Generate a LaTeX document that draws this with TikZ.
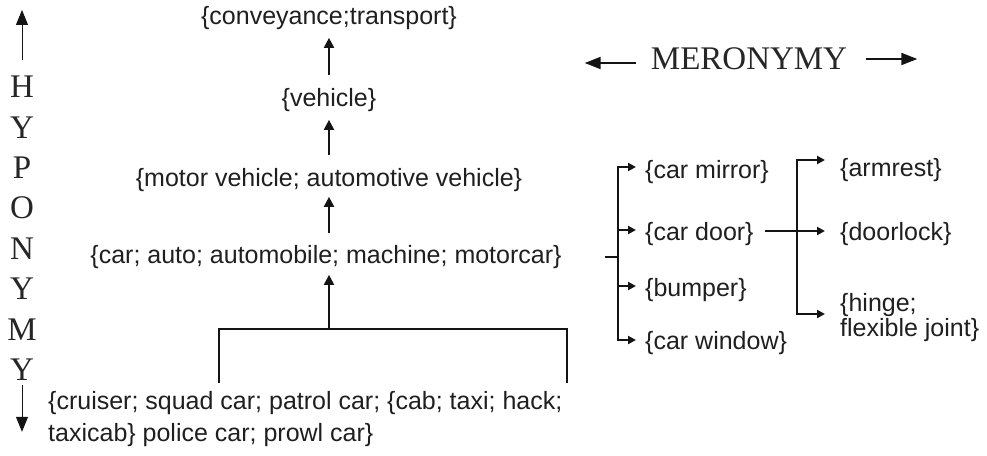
\documentclass[tikz,border=0pt]{standalone}
\usepackage{fontspec}
\setmainfont{Liberation Sans}
\newfontfamily\serifface{Liberation Serif}
\usetikzlibrary{arrows.meta}
\begin{document}
\begin{tikzpicture}[x=1pt,y=-1pt,
  txt/.style={inner sep=0pt, font=\fontsize{25}{32}\selectfont, text=black!88},
  txttight/.style={inner sep=0pt, font=\fontsize{25}{25}\selectfont, text=black!88, align=left},
  lbl/.style={inner sep=0pt, font=\serifface\fontsize{33}{36}\selectfont, text=black!85},
  tline/.style={line width=2pt, draw=black!92},
  harr/.style={tline, -{Triangle[length=10pt,width=10pt]}},
  marr/.style={tline, -{Triangle[length=8pt,width=8pt]}},
  sidearr/.style={line width=1pt, draw=black!92, -{Triangle[length=15pt,width=12pt]}},
  bigarr/.style={tline, -{Triangle[length=16pt,width=12pt]}}
]
\useasboundingbox (0,0) rectangle (987,455);

% HYPONYMY vertical label
\foreach \l [count=\i from 0] in {H,Y,P,O,N,Y,M,Y}
  \node[lbl] (h\i) at (22,{87+40.4*\i}) {\l};
\draw[sidearr] ([yshift=16pt]h0.north) -- ([yshift=66pt]h0.north);
\draw[sidearr] ([yshift=-4pt]h7.south) -- ([yshift=-51pt]h7.south);

% hyponymy tree
\node[txt] (conv)  at (329,18)  {\{conveyance;transport\}};
\node[txt] (veh)   at (329,100) {\{vehicle\}};
\node[txt] (motor) at (329,180) {\{motor vehicle; automotive vehicle\}};
\node[txt] (car)   at (326,257) {\{car; auto; automobile; machine; motorcar\}};
\node[txt, anchor=west, align=left] (police) at (48,419)
  {\{cruiser; squad car; patrol car; \{cab; taxi; hack;\\taxicab\} police car; prowl car\}};

\draw[harr, shorten <=13pt, shorten >=8pt] (veh.north) -- (conv.south);
\draw[harr, shorten <=13pt, shorten >=8pt] (motor.north) -- (veh.south);
\draw[harr, shorten <=12pt, shorten >=5pt] (motor.south |- car.north) -- (motor.south);

\coordinate (jt) at (329,329);
\coordinate (bl) at (219,383);
\coordinate (br) at (567,383);
\draw[tline] (bl) -- (bl |- jt) -- (br |- jt) -- (br);
\draw[harr, shorten >=6pt] (jt) -- (jt |- car.south);

% MERONYMY label
\node[lbl] (mero) at (749,59) {MERONYMY};
\draw[bigarr] ([xshift=-15pt,yshift=-4pt]mero.west) -- ++(-51,0);
\draw[bigarr] ([xshift=19pt]mero.east) -- ++(51,0);

% meronymy tree, level 1
\node[txt, anchor=west] (mirror) at (645,172) {\{car mirror\}};
\node[txt, anchor=west] (door)   at (645,234) {\{car door\}};
\node[txt, anchor=west] (bumper) at (645,290) {\{bumper\}};
\node[txt, anchor=west] (window) at (645,343) {\{car window\}};
\coordinate (b1t) at (618,167);
\coordinate (b1b) at (618,340);
\coordinate (amir) at (636,167);
\coordinate (adoor) at (636,230);
\coordinate (abump) at (636,286);
\coordinate (awin) at (636,340);
\draw[tline] ([xshift=43pt]car.east) -- (car.east -| b1t);
\draw[marr] (b1b) -- (b1t) -- (amir);
\draw[marr] (b1t) -- (b1b) -- (awin);
\draw[marr] (b1t |- adoor) -- (adoor);
\draw[marr] (b1t |- abump) -- (abump);

% meronymy tree, level 2
\node[txt, anchor=west] (armrest)  at (840,170) {\{armrest\}};
\node[txt, anchor=west] (doorlock) at (840,234) {\{doorlock\}};
\node[txttight, anchor=west] (hinge) at (840,318) {\{hinge;\\flexible joint\}};
\coordinate (b2t) at (797,160);
\coordinate (b2b) at (797,314);
\coordinate (aarm) at (825,160);
\coordinate (adl) at (825,231);
\coordinate (ahin) at (825,314);
\draw[marr] (b2b) -- (b2t) -- (aarm);
\draw[marr] (b2t) -- (b2b) -- (ahin);
\draw[marr, shorten <=11pt] (adl -| door.east) -- (adl);
\end{tikzpicture}
\end{document}
